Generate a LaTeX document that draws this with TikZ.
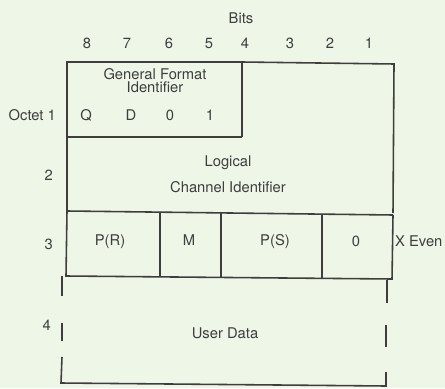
\documentclass[tikz,border=0pt]{standalone}
\usepackage{fontspec}
\setmainfont{TeX Gyre Heros}
\usepackage{xcolor}
\usepackage{tikz}
\usetikzlibrary{positioning}
\definecolor{paper}{RGB}{237,246,231}
\definecolor{ink}{RGB}{62,62,62}
\tikzset{
  cellline/.style={draw=ink, line width=0.9pt},
  lbl/.style={font=\fontsize{8.4}{10}\selectfont, text=ink, inner sep=1pt},
  bitno/.style={lbl, anchor=base},
  rowno/.style={lbl, anchor=base east}
}

\begin{document}
\begin{tikzpicture}[x=0.02cm, y=-0.02cm]
  % Page
  \fill[paper] (0,0) rectangle (445,388);
  \useasboundingbox (0,0) rectangle (445,388);

  % Bit numbers
  \node[lbl] (bits) at (241,18) {Bits};
  \node[bitno] (b8) at (87,49) {8};
  \node[bitno] (b7) at (127,49) {7};
  \node[bitno] (b6) at (169,49) {6};
  \node[bitno] (b5) at (209,49) {5};
  \node[bitno] (b4) at (245,49) {4};
  \node[bitno] (b3) at (290,49) {3};
  \node[bitno] (b2) at (330,49) {2};
  \node[bitno] (b1) at (369,49) {1};

  % Octet 1
  \draw[cellline] (242,137) -- (242,62) -- (67,62) -- (67,213);
  \draw[cellline] (67,137) -- (242,137);
  \draw[cellline] (242,62) -- (394,64) -- (393,213);
  \node[lbl] (gfi) at (155,74) {General Format};
  \node[lbl, below=-1pt of gfi] (gfi2) {Identifier};
  \node[bitno] (q) at (86,121) {Q};
  \node[bitno] (d) at (131,121) {D};
  \node[bitno] (z) at (170,121) {0};
  \node[bitno] (o) at (210,121) {1};
  \node[rowno] (oct1) at (58,121) {Octet 1};

  % Octet 2
  \draw[cellline] (67,211) -- (393,215);
  \node[lbl] (lci) at (228,163) {Logical};
  \node[lbl, below=4pt of lci] (lci2) {Channel Identifier};
  \node[rowno] (oct2) at (55,180) {2};

  % Octet 3
  \draw[cellline] (67,211) -- (66,276) -- (392,279) -- (393,215);
  \draw[cellline] (160,212) -- (160,277);
  \draw[cellline] (221,213) -- (221,277);
  \draw[cellline] (322,214) -- (322,278);
  \node[bitno] (pr) at (110,245) {P(R)};
  \node[bitno] (m) at (189,245) {M};
  \node[bitno] (ps) at (275,245) {P(S)};
  \node[bitno] (x0) at (356,246) {0};
  \node[lbl, anchor=base west] (xeven) at (393,246) {X Even};
  \node[rowno] (oct3) at (55,249) {3};

  % Octet 4, broken sides
  \draw[cellline] (62,276) -- (62,296);
  \draw[cellline] (62,323) -- (62,341);
  \draw[cellline] (62,357) -- (61,383) -- (386,386) -- (386,372);
  \draw[cellline] (387,280) -- (387,303);
  \draw[cellline] (386,325) -- (386,347);
  \node[lbl] (ud) at (225,333) {User Data};
  \node[rowno] (oct4) at (53,330) {4};
\end{tikzpicture}
\end{document}
